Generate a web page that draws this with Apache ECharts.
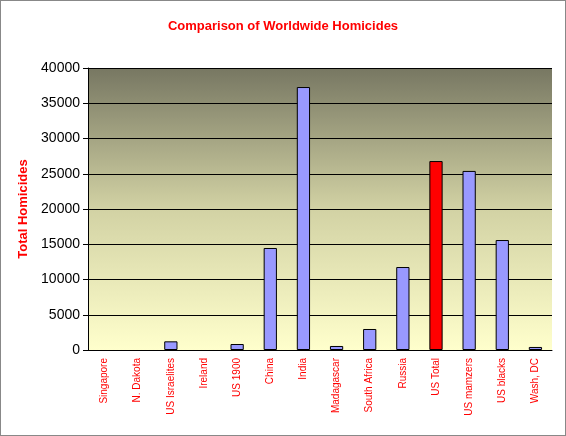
<!DOCTYPE html>
<html><head><meta charset="utf-8">
<script src="https://cdn.jsdelivr.net/npm/echarts@6/dist/echarts.min.js"></script>
<style>html,body{margin:0;padding:0;background:#fff}#c{width:564px;height:434px;border:1px solid #888}</style>
</head><body><div id="c"></div>
<script>
var categories = ['Singapore', 'N. Dakota', 'US Israelites', 'Ireland', 'US 1900', 'China', 'India',
    'Madagascar', 'South Africa', 'Russia', 'US Total', 'US mamzers', 'US blacks', 'Wash, DC'];
var homicides = [0, 0, 1230, 0, 850, 14470, 37300, 570, 2980, 11770, 26800, 25400, 15600, 430];
var highlight = 'US Total';

var chart = echarts.init(document.getElementById('c'));
chart.setOption({
    animation: false,
    title: {
        text: 'Comparison of Worldwide Homicides', left: 'center', top: 14,
        textStyle: { color: '#ff0000', fontSize: 13, fontWeight: 'bold', fontFamily: 'Arial' }
    },
    grid: {
        left: 87, right: 13, top: 67, bottom: 85, show: true, borderWidth: 0,
        backgroundColor: new echarts.graphic.LinearGradient(0, 0, 0, 1, [
            { offset: 0, color: '#777762' }, { offset: 0.5, color: '#d2d2a4' }, { offset: 1, color: '#ffffcc' }
        ])
    },
    xAxis: {
        type: 'category', data: categories,
        axisLine: { lineStyle: { color: '#000' } },
        axisTick: { lineStyle: { color: '#000' } },
        axisLabel: { rotate: 90, color: '#ff0000', fontSize: 10, fontFamily: 'Arial', interval: 0 }
    },
    yAxis: {
        type: 'value', min: 0, max: 40000, interval: 5000,
        name: 'Total Homicides', nameLocation: 'middle', nameGap: 56,
        nameTextStyle: { color: '#ff0000', fontSize: 13, fontWeight: 'bold', fontFamily: 'Arial' },
        axisLine: { show: true, lineStyle: { color: '#000' } },
        axisTick: { show: true, lineStyle: { color: '#000' } },
        axisLabel: { color: '#000', fontSize: 14, fontFamily: 'Arial', formatter: function (v) { return String(v); } },
        splitLine: { lineStyle: { color: '#000' } }
    },
    series: [{
        type: 'bar', barWidth: '40%',
        data: homicides.map(function (v, i) {
            return {
                value: v === 0 ? null : v,
                itemStyle: { color: categories[i] === highlight ? '#ff0000' : '#9999ff', borderColor: '#000', borderWidth: 1 }
            };
        })
    }]
});
</script></body></html>
